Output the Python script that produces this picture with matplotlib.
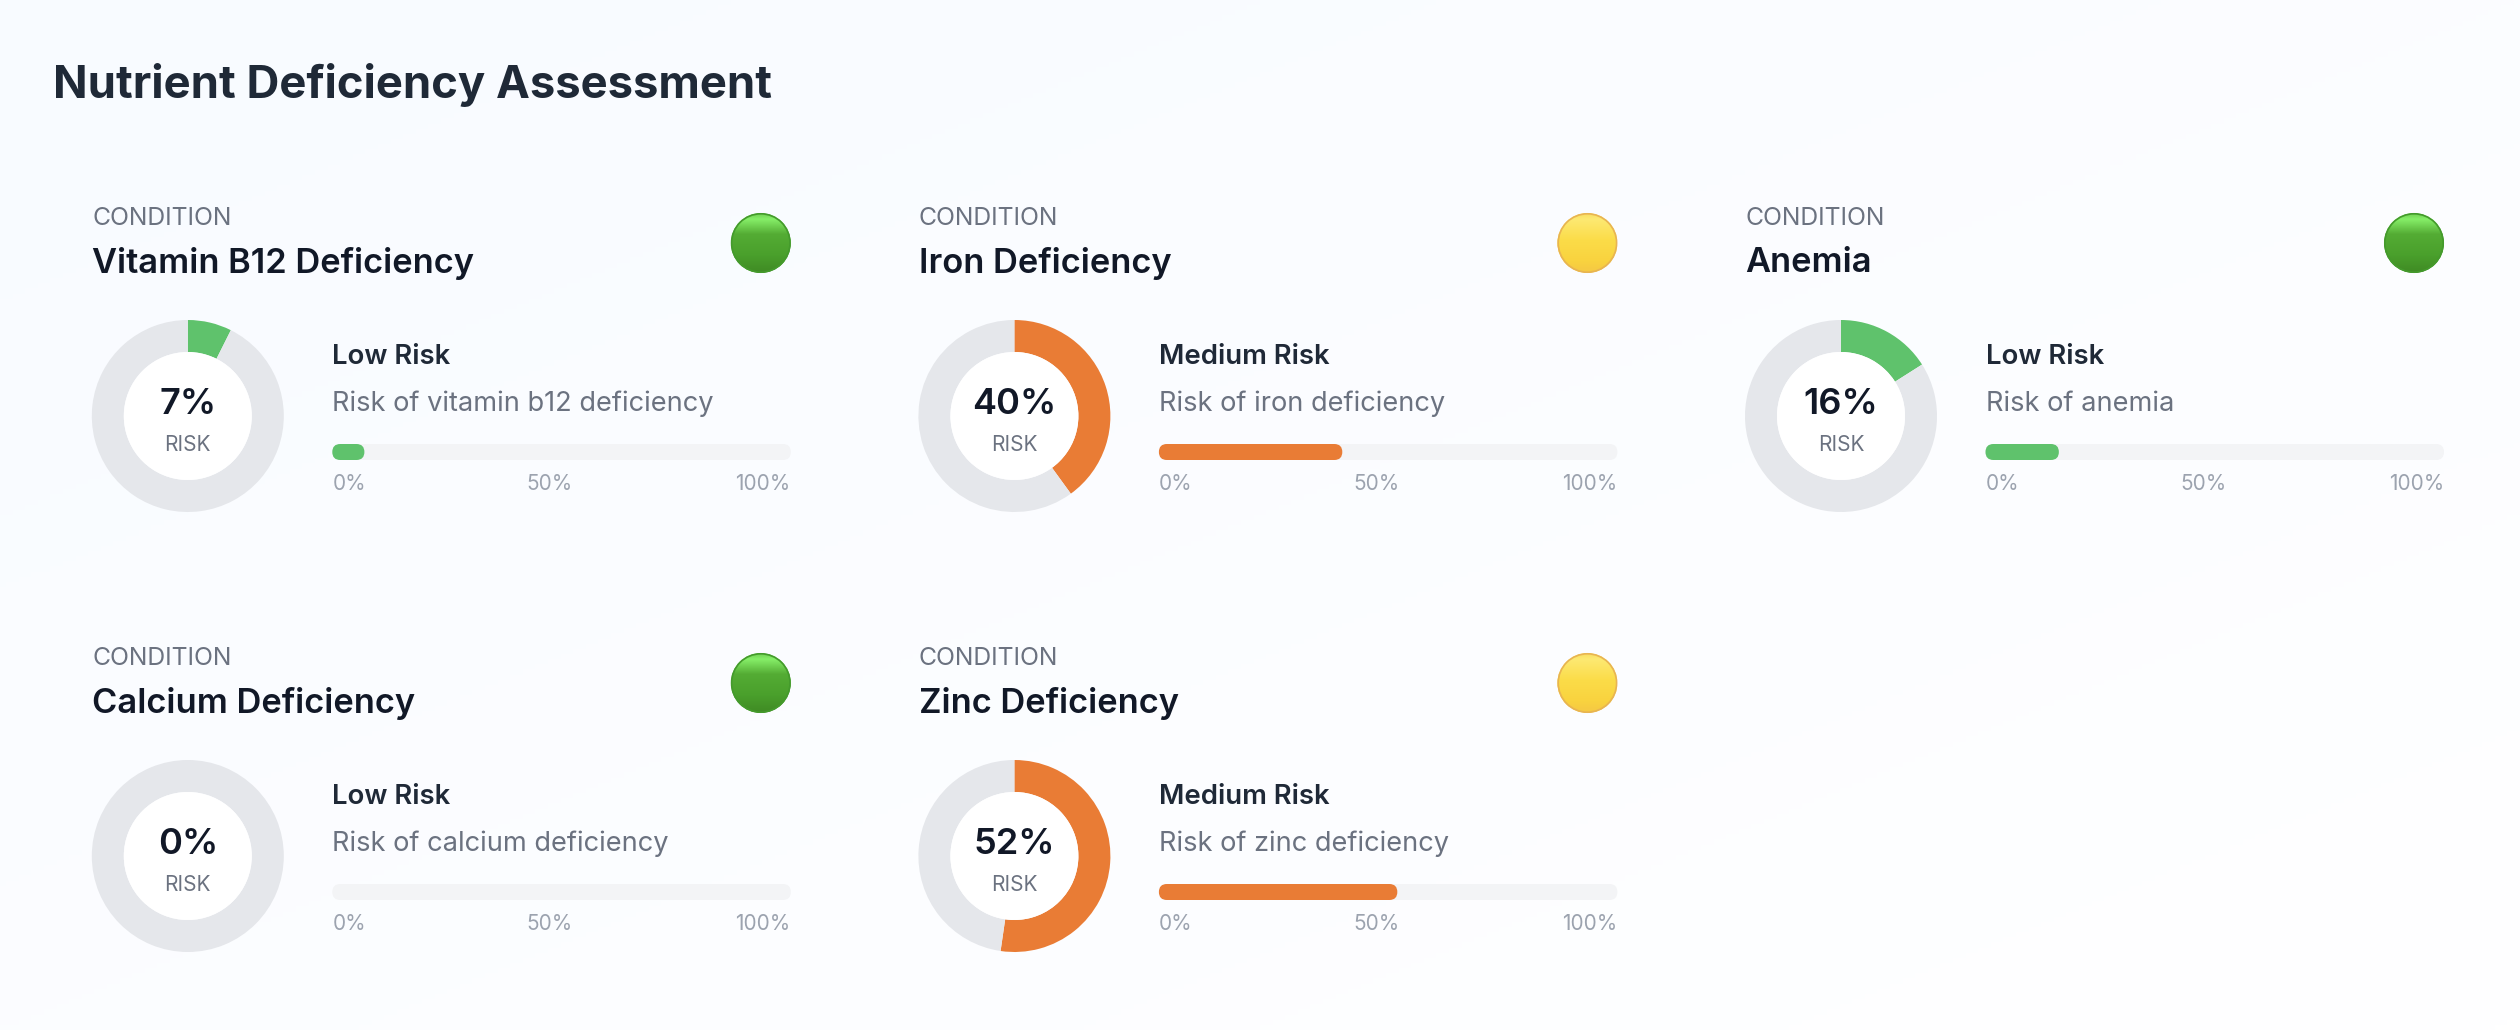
import numpy as np
import matplotlib
matplotlib.use('Agg')
import matplotlib.pyplot as plt
from matplotlib.colors import LinearSegmentedColormap
from matplotlib.patches import Circle, FancyBboxPatch

plt.rcParams['font.family'] = ['Inter', 'DejaVu Sans']

W, H = 2520, 1030

# data
conditions = ['Vitamin B12 Deficiency', 'Iron Deficiency', 'Anemia', 'Calcium Deficiency', 'Zinc Deficiency']
risk_pct = [7.4, 40, 16, 0, 52.3]
risk_levels = ['Low Risk', 'Medium Risk', 'Low Risk', 'Low Risk', 'Medium Risk']
descriptions = ['Risk of vitamin b12 deficiency', 'Risk of iron deficiency', 'Risk of anemia',
                'Risk of calcium deficiency', 'Risk of zinc deficiency']
tick_labels = ['0%', '50%', '100%']

colors = {'Low Risk': '#5fc26c', 'Medium Risk': '#e97c35'}
light_stops = {
    'Low Risk': [(0, '#6ecf50'), (0.1, '#86ee68'), (0.35, '#54ac34'), (0.7, '#4aa02c'), (1, '#3f8a24')],
    'Medium Risk': [(0, '#f8dc60'), (0.1, '#fde972'), (0.45, '#fbdc48'), (0.8, '#f9d33f'), (1, '#f5c844')],
}
light_edges = {'Low Risk': '#449a2c', 'Medium Risk': '#e8b452'}

fig = plt.figure(figsize=(W / 100, H / 100), dpi=100)
ax = fig.add_axes([0, 0, 1, 1])
ax.set_xlim(0, W)
ax.set_ylim(H, 0)
ax.axis('off')

# page background, pale blue fading to white
yy, xx = np.mgrid[0:1:200j, 0:1:400j]
bg = LinearSegmentedColormap.from_list('bg', ['#f8fbff', '#ffffff'])
ax.imshow((xx + yy) / 2, cmap=bg, extent=(0, W, H, 0), aspect='auto', zorder=0)

ax.text(53, 98, 'Nutrient Deficiency Assessment', fontsize=32.7, fontweight='bold', color='#1f2937', va='baseline')


def donut(cx, cy, pct, color):
    r = 96
    a = fig.add_axes([(cx - r) / W, 1 - (cy + r) / H, 2 * r / W, 2 * r / H])
    a.pie([pct, 100 - pct], colors=[color, '#e5e7eb'], startangle=90, counterclock=False,
          radius=1, wedgeprops=dict(width=1 / 3, linewidth=0))
    a.add_patch(Circle((0, 0), 2 / 3, facecolor='white', edgecolor='none'))
    a.set_xlim(-1, 1)
    a.set_ylim(-1, 1)
    a.patch.set_alpha(0)
    return a


def status_light(cx, cy, level):
    r = 30
    cmap = LinearSegmentedColormap.from_list('light', light_stops[level])
    grad = np.linspace(0, 1, 128).reshape(-1, 1)
    im = ax.imshow(grad, cmap=cmap, extent=(cx - r, cx + r, cy + r, cy - r), aspect='auto', zorder=2)
    clip = Circle((cx, cy), r, transform=ax.transData)
    im.set_clip_path(clip)
    ax.add_patch(Circle((cx, cy), r - 0.8, facecolor='none', edgecolor=light_edges[level], linewidth=1.2, zorder=3))


for i, name in enumerate(conditions):
    dx = 92.3 + 826.6 * (i % 3)
    dy = 440 * (i // 3)
    pct = risk_pct[i]
    level = risk_levels[i]

    ax.text(dx, 225 + dy, 'CONDITION', fontsize=17.8, color='#6b7280', va='baseline')
    ax.text(dx, 272.5 + dy, name, fontsize=24.8, fontweight='semibold', color='#111827', va='baseline')
    status_light(dx + 668.5, 243 + dy, level)

    d = donut(dx + 95.5, 416 + dy, pct, colors[level])
    d.text(0, 0.02, f'{pct:.0f}%', fontsize=26, fontweight='semibold', color='#111827', ha='center', va='baseline')
    d.text(0, -0.365, 'RISK', fontsize=15, color='#6b7280', ha='center', va='baseline')

    bx = dx + 240
    bw = 458.5
    ax.text(bx, 364 + dy, level, fontsize=19.8, fontweight='semibold', color='#1f2937', va='baseline')
    ax.text(bx, 411 + dy, descriptions[i], fontsize=19.6, color='#6b7280', va='baseline')

    ax.add_patch(FancyBboxPatch((bx + 8, 452 + dy), bw - 16, 0, boxstyle='round,pad=8,rounding_size=8',
                                facecolor='#f3f4f6', edgecolor='none', zorder=2))
    if pct > 0:
        ax.add_patch(FancyBboxPatch((bx + 8, 452 + dy), bw * round(pct) / 100 - 16, 0, boxstyle='round,pad=8,rounding_size=8',
                                    facecolor=colors[level], edgecolor='none', zorder=3))

    ax.text(bx, 490 + dy, tick_labels[0], fontsize=15, color='#9ca3af', va='baseline')
    ax.text(bx + 217.5, 490 + dy, tick_labels[1], fontsize=15, color='#9ca3af', ha='center', va='baseline')
    ax.text(bx + bw, 490 + dy, tick_labels[2], fontsize=15, color='#9ca3af', ha='right', va='baseline')

fig.savefig('out.png', dpi=100)
